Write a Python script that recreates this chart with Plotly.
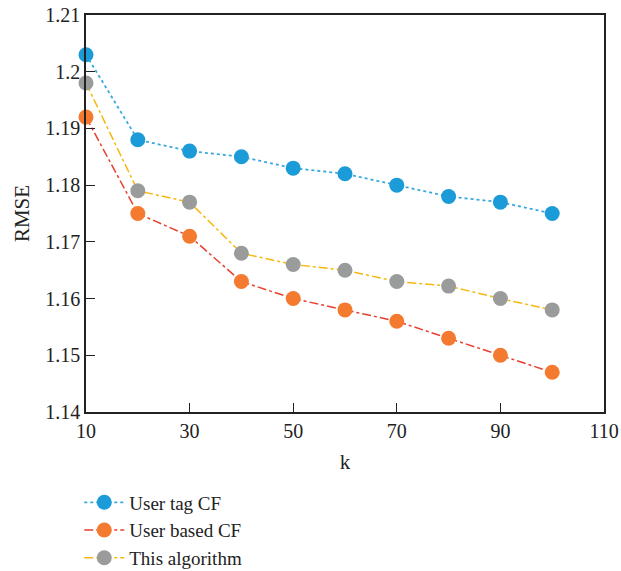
import plotly.graph_objects as go

k = [10, 20, 30, 40, 50, 60, 70, 80, 90, 100]
user_tag_cf = [1.203, 1.188, 1.186, 1.185, 1.183, 1.182, 1.180, 1.178, 1.177, 1.175]
user_based_cf = [1.192, 1.175, 1.171, 1.163, 1.160, 1.158, 1.156, 1.153, 1.150, 1.147]
this_algorithm = [1.198, 1.179, 1.177, 1.168, 1.166, 1.165, 1.163, 1.1622, 1.160, 1.158]
x_ticks = [10, 30, 50, 70, 90, 110]
y_ticks = [1.14, 1.15, 1.16, 1.17, 1.18, 1.19, 1.20, 1.21]
y_tick_text = ["1.14", "1.15", "1.16", "1.17", "1.18", "1.19", "1.2", "1.21"]

FONT = "Liberation Serif"

fig = go.Figure()
fig.add_trace(go.Scatter(
    x=k, y=user_tag_cf, name="User tag CF", mode="lines+markers",
    line=dict(color="#3aa8e0", width=1.8, dash="dot"),
    marker=dict(color="#1b9bd8", size=15),
    cliponaxis=False,
))
fig.add_trace(go.Scatter(
    x=k, y=user_based_cf, name="User based CF", mode="lines+markers",
    line=dict(color="#e8402f", width=1.5, dash="dashdot"),
    marker=dict(color="#f47a30", size=15),
    cliponaxis=False,
))
fig.add_trace(go.Scatter(
    x=k, y=this_algorithm, name="This algorithm", mode="lines+markers",
    line=dict(color="#f6b80e", width=1.5, dash="dashdot"),
    marker=dict(color="#9a9c9c", size=15),
    cliponaxis=False,
))

axis_common = dict(
    showline=True, linecolor="#222222", linewidth=1.5, mirror=True,
    ticks="inside", ticklen=9, tickcolor="#222222", tickwidth=1.2,
    showgrid=False, zeroline=False, automargin=False,
    tickfont=dict(family=FONT, size=20, color="#222222"),
)

fig.update_layout(
    width=621, height=571,
    paper_bgcolor="white", plot_bgcolor="white",
    margin=dict(l=86, r=17, t=15, b=159, autoexpand=False),
    font=dict(family=FONT, size=20, color="#222222"),
    xaxis=dict(range=[10, 110], tickvals=x_ticks, title=dict(text="k", font=dict(family=FONT, size=21), standoff=14), **axis_common),
    yaxis=dict(range=[1.14, 1.21], tickvals=y_ticks, ticktext=y_tick_text, title=dict(text="RMSE", font=dict(family=FONT, size=21), standoff=10), **axis_common),
    legend=dict(x=-0.013, y=-0.18, xanchor="left", yanchor="top", orientation="v",
                font=dict(family=FONT, size=19, color="#222222"), bgcolor="rgba(0,0,0,0)",
                tracegroupgap=0, itemwidth=40),
    showlegend=True,
)

fig.write_html("out.html", config={"displayModeBar": False},
               post_script="document.body.style.margin='0';document.body.style.overflow='hidden';")
